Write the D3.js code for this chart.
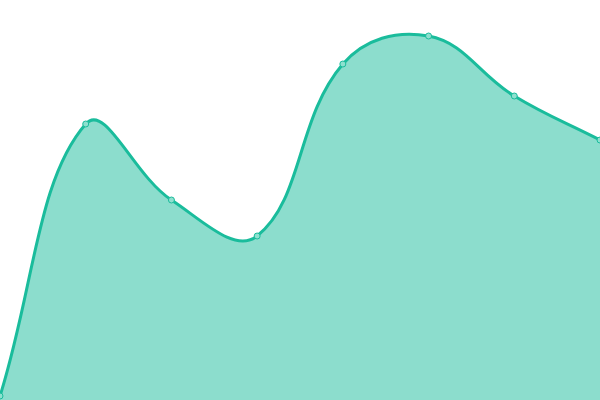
<!DOCTYPE html>
<html>
<head>
<meta charset="utf-8">
<script src="https://cdn.jsdelivr.net/npm/d3@7"></script>
<style>
  html, body { margin: 0; padding: 0; background: #fff; }
  svg { display: block; }
</style>
</head>
<body>
<div id="chart"></div>
<script>
// data
var categories = ["A", "B", "C", "D", "E", "F", "G", "H"];
var values = [1, 69, 50, 41, 84, 91, 76, 65];

var width = 600, height = 400;

// spline with distance weighted control points (tension 0.4)
function curveSpline(context) { return new Spline(context, 0.4); }
function Spline(context, t) { this._context = context; this._t = t; }
Spline.prototype = {
    areaStart: function() { this._line = 0; },
    areaEnd: function() { this._line = NaN; },
    lineStart: function() { this._x = []; this._y = []; },
    point: function(x, y) { this._x.push(+x); this._y.push(+y); },
    lineEnd: function() {
        var xs = this._x, ys = this._y, n = xs.length, c = this._context, t = this._t;
        if (n) {
            if (this._line) c.lineTo(xs[0], ys[0]); else c.moveTo(xs[0], ys[0]);
            var cp = [];
            for (var i = 0; i < n; i++) {
                var p = i > 0 ? i - 1 : i, q = i < n - 1 ? i + 1 : i;
                var d01 = Math.hypot(xs[i] - xs[p], ys[i] - ys[p]);
                var d12 = Math.hypot(xs[q] - xs[i], ys[q] - ys[i]);
                var s01 = d01 / (d01 + d12), s12 = d12 / (d01 + d12);
                if (isNaN(s01)) s01 = 0;
                if (isNaN(s12)) s12 = 0;
                var fa = t * s01, fb = t * s12;
                var dx = xs[q] - xs[p], dy = ys[q] - ys[p];
                cp.push({
                    px: clamp(xs[i] - fa * dx, 0, width), py: clamp(ys[i] - fa * dy, 0, height),
                    nx: clamp(xs[i] + fb * dx, 0, width), ny: clamp(ys[i] + fb * dy, 0, height)
                });
            }
            for (var j = 1; j < n; j++) {
                c.bezierCurveTo(cp[j - 1].nx, cp[j - 1].ny, cp[j].px, cp[j].py, xs[j], ys[j]);
            }
        }
        if (this._line || (this._line !== 0 && n === 1)) c.closePath();
        this._line = 1 - this._line;
    }
};
function clamp(v, a, b) { return Math.max(a, Math.min(b, v)); }

var svg = d3.select("#chart")
    .append("svg")
    .attr("width", width)
    .attr("height", height);

var x = d3.scalePoint()
    .domain(categories)
    .range([0, width]);

var y = d3.scaleLinear()
    .domain([0, 100])
    .range([height, 0]);

var pts = categories.map(function(c, i) { return {c: c, v: values[i]}; });

var area = d3.area()
    .x(function(d) { return x(d.c); })
    .y0(height)
    .y1(function(d) { return y(d.v); })
    .curve(curveSpline);

var line = d3.line()
    .x(function(d) { return x(d.c); })
    .y(function(d) { return y(d.v); })
    .curve(curveSpline);

svg.append("path")
    .datum(pts)
    .attr("d", area)
    .attr("fill", "#1abc9c")
    .attr("fill-opacity", 0.5);

svg.append("path")
    .datum(pts)
    .attr("d", line)
    .attr("fill", "none")
    .attr("stroke", "#1abc9c")
    .attr("stroke-width", 3);

svg.selectAll("circle")
    .data(pts)
    .enter()
    .append("circle")
    .attr("cx", function(d) { return x(d.c); })
    .attr("cy", function(d) { return y(d.v); })
    .attr("r", 3)
    .attr("fill", "#8ee0cf")
    .attr("stroke", "#1abc9c")
    .attr("stroke-width", 1);
</script>
</body>
</html>
